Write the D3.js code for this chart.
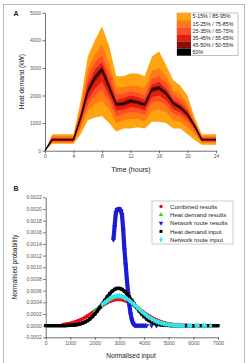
<!DOCTYPE html>
<html>
<head>
<meta charset="utf-8">
<script src="https://cdn.jsdelivr.net/npm/d3@7"></script>
<style>
  body { margin: 0; background: #fff; }
  svg { display: block; font-family: "Liberation Sans", Arial, sans-serif; }
  .axis text { fill: #555; font-size: 5px; }
  .axis path, .axis line { stroke: #333; stroke-width: 0.7; }
  .title { fill: #222; font-size: 6.6px; }
</style>
</head>
<body>
<svg id="chart" width="249" height="363"></svg>
<script>
// ---- panel A data : heat demand quantiles per hour ----
const hours = [0, 1, 2, 3, 4, 5, 6, 7, 8, 9, 10, 11, 12, 13, 14, 15, 16, 17, 18, 19, 20, 21, 22, 23, 24];
const q95 = [0, 600, 600, 600, 600, 1800, 3400, 4000, 4500, 3800, 2700, 2700, 2800, 2800, 2700, 3400, 3600, 3100, 2550, 2350, 2000, 1200, 600, 600, 600];
const q85 = [0, 520, 520, 520, 520, 1500, 2950, 3500, 3850, 3150, 2300, 2300, 2350, 2350, 2250, 2900, 3000, 2700, 2200, 2050, 1700, 1050, 520, 520, 520];
const q75 = [0, 480, 480, 480, 480, 1400, 2650, 3200, 3450, 2800, 2050, 2050, 2150, 2100, 2000, 2600, 2700, 2450, 2000, 1850, 1550, 1000, 480, 480, 480];
const q65 = [0, 450, 450, 450, 450, 1300, 2400, 2950, 3200, 2550, 1850, 1900, 2000, 1950, 1850, 2400, 2500, 2250, 1850, 1700, 1450, 950, 450, 450, 450];
const q55 = [0, 420, 420, 420, 420, 1250, 2250, 2750, 3050, 2400, 1750, 1780, 1880, 1830, 1730, 2300, 2350, 2150, 1780, 1620, 1370, 920, 420, 420, 420];
const q50 = [0, 400, 400, 400, 400, 1200, 2150, 2650, 2950, 2300, 1680, 1700, 1800, 1750, 1660, 2220, 2280, 2080, 1720, 1560, 1320, 900, 400, 400, 400];
const q45 = [0, 380, 380, 380, 380, 1150, 2050, 2500, 2800, 2200, 1600, 1620, 1720, 1680, 1590, 2130, 2180, 2000, 1650, 1500, 1270, 870, 380, 380, 380];
const q35 = [0, 350, 350, 350, 350, 1050, 1850, 2250, 2500, 2000, 1450, 1480, 1580, 1550, 1460, 1950, 2000, 1830, 1500, 1380, 1170, 800, 350, 350, 350];
const q25 = [0, 320, 320, 320, 320, 950, 1650, 2000, 2200, 1800, 1250, 1320, 1400, 1380, 1300, 1750, 1800, 1650, 1350, 1250, 1050, 720, 320, 320, 320];
const q15 = [0, 290, 290, 290, 290, 800, 1450, 1700, 1800, 1500, 1000, 1100, 1150, 1150, 1050, 1450, 1500, 1400, 1100, 1050, 850, 600, 290, 290, 290];
const q05 = [0, 250, 250, 250, 250, 600, 1100, 1200, 1250, 1000, 700, 800, 800, 850, 800, 1050, 1050, 1000, 800, 800, 600, 400, 220, 220, 220];
const bandLabels = ['5-15% / 85-95%', '15-25% / 75-85%', '25-35% / 65-75%', '35-45% / 55-65%', '45-50% / 50-55%', '50%'];
const bandColors = ['#ffa310', '#ff7a14', '#ff4e26', '#e11f0e', '#8a0a06', '#000000'];
const hourTicks = [0, 4, 8, 12, 16, 20, 24];
const demandTicks = [0, 1000, 2000, 3000, 4000, 5000];

// ---- panel B data : normalised probability curves (x grid every 100) ----
const inputX = d3.range(0, 7001, 100);
const heatInput = [0, 0, 0, 0, 0, 0, 0, 0, 0, 0.000003,
  0.000005, 0.000008, 0.000012, 0.000019, 0.000029, 0.000043, 0.000061, 0.000086, 0.000116, 0.000155,
  0.0002, 0.000252, 0.00031, 0.000371, 0.000433, 0.000493, 0.000547, 0.00059, 0.000622, 0.000638,
  0.000638, 0.000622, 0.00059, 0.000547, 0.000493, 0.000433, 0.000371, 0.00031, 0.000252, 0.0002,
  0.000155, 0.000116, 0.000086, 0.000061, 0.000043, 0.000029, 0.000019, 0.000012, 0.000008, 0.000005,
  0.000003, 0, 0, 0, 0, 0, 0, 0, 0, 0,
  0, 0, 0, 0, 0, 0, 0, 0, 0, 0,
  0];
const combined = [null, null, null, null, null, null, null, 0.000018, 0.000024, 0.000031,
  0.00004, 0.000051, 0.000064, 0.00008, 0.000098, 0.000118, 0.000141, 0.000167, 0.000194, 0.000223,
  0.000254, 0.000284, 0.000315, 0.000344, 0.000371, 0.000396, 0.000416, 0.000432, 0.000444, 0.000449,
  0.000449, 0.000444, 0.000432, 0.000416, 0.000396, 0.000371, 0.000344, 0.000315, 0.000284, 0.000254,
  0.000223, 0.000194, 0.000167, 0.000141, 0.000118, 0.000098, 0.00008, 0.000064, 0.000051, 0.00004,
  0.000031, 0.000024, 0.000018, 0.000014, 0.00001, 0.000007, 0.000005, 0.000003, 0.000002, 0.000001,
  0, null, null, null, null, null, null, null, null, null,
  null];
const heatResults = [null, null, null, null, null, null, null, null, null, null,
  null, null, null, null, null, null, null, null, null, null,
  0.000243, 0.00028, 0.000319, 0.000356, 0.000392, 0.000425, 0.000453, 0.000476, 0.000491, 0.000499,
  0.000499, 0.000491, 0.000476, 0.000453, 0.000425, 0.000392, 0.000356, 0.000319, 0.00028, 0.000243,
  0.000207, 0.000173, 0.000143, 0.000116, 0.000093, 0.000073, 0.000057, 0.000043, 0.000032, 0.000024,
  0.000017, null, null, null, null, null, null, null, null, null,
  null, null, null, null, null, null, null, null, null, null,
  null];
const routeInput = [null, null, null, null, null, null, null, null, null, null,
  null, null, null, null, null, null, null, null, null, null,
  null, null, null, 0.000361, 0.000398, 0.000432, 0.000461, 0.000485, 0.000501, 0.000509,
  0.000509, 0.000501, 0.000485, 0.000461, 0.000432, 0.000398, 0.000361, 0.000322, 0.000282, 0.000244,
  0.000207, 0.000173, 0.000142, 0.000115, 0.000091, 0.000072, 0.000055, 0.000042, 0.000031, 0.000023,
  0.000016, 0.000012, 0.000008, 0.000006, 0.000004, 0, 0, null, 0, 0,
  null, 0, 0, null, 0, 0, null, 0, null, null,
  null];
// network route results has its own, finer x grid
const routeResX = [2750, 2800, 2850, 2900, 2950, 3000, 3050, 3100, 3150, 3200, 3250, 3300, 3350, 3400, 3450, 3500, 3550, 3600, 3650, 3700, 3800, 3900, 4000, 4100, 4200, 4300, 4400, 4500];
const routeResY = [0.00147, 0.0017, 0.00193, 0.00199, 0.002, 0.002, 0.00197, 0.0019, 0.00164, 0.0013, 0.00104, 0.00078, 0.00055, 0.00035, 0.0002, 0.0001, 0.00004, 0.00001, 0.000002, 0, 0, 0, 0, 0, null, 0, null, 0];
const inputTicks = [0, 1000, 2000, 3000, 4000, 5000, 6000, 7000];
const probTicks = [-0.0002, 0, 0.0002, 0.0004, 0.0006, 0.0008, 0.001, 0.0012, 0.0014, 0.0016, 0.0018, 0.002, 0.0022];
const seriesNames = ['Combined results', 'Heat demand results', 'Network route results', 'Heat demand input', 'Network route input'];
const seriesColors = ['#e8101a', '#22dd22', '#1a1ad8', '#000000', '#33e6ee'];

const svg = d3.select('#chart');

// outer frame
svg.append('rect')
  .attr('x', 3.5).attr('y', 4.5)
  .attr('width', 241).attr('height', 370)
  .attr('fill', 'none').attr('stroke', '#aaa').attr('stroke-width', 0.8);

// ================= panel A =================
const xA = d3.scaleLinear().domain([0, 24]).range([45, 216]);
const yA = d3.scaleLinear().domain([0, 5000]).range([150.7, 12.7]);

const gA = svg.append('g');
const bandPairs = [[q05, q95], [q15, q85], [q25, q75], [q35, q65], [q45, q55]];
const area = d3.area()
  .x((d, i) => xA(hours[i]))
  .y0(d => yA(d[0]))
  .y1(d => yA(d[1]));
bandPairs.forEach((p, k) => {
  gA.append('path')
    .attr('d', area(d3.zip(p[0], p[1])))
    .attr('fill', bandColors[k]);
});
gA.append('path')
  .attr('d', d3.line().x((d, i) => xA(hours[i])).y(d => yA(d))(q50))
  .attr('fill', 'none')
  .attr('stroke', '#000')
  .attr('stroke-width', 1.4)
  .attr('stroke-linejoin', 'round');

gA.append('g')
  .attr('class', 'axis')
  .attr('transform', 'translate(0,150.7)')
  .call(d3.axisBottom(xA).tickValues(hourTicks).tickSize(2.5).tickSizeOuter(0).tickPadding(1.5));
gA.append('g')
  .attr('class', 'axis')
  .attr('transform', 'translate(45,0)')
  .call(d3.axisLeft(yA).tickValues(demandTicks).tickFormat(d3.format('d')).tickSize(2.5).tickSizeOuter(0).tickPadding(1.5));

gA.append('text').attr('class', 'title')
  .attr('x', 131).attr('y', 171.5).attr('text-anchor', 'middle')
  .style('font-size', '7px')
  .text('Time (hours)');
gA.append('text').attr('class', 'title')
  .attr('transform', 'translate(23.5,81.7) rotate(-90)')
  .attr('text-anchor', 'middle')
  .text('Heat demand (kW)');
svg.append('text')
  .attr('x', 13.5).attr('y', 16)
  .style('font-size', '7px').style('font-weight', 'bold').attr('fill', '#222')
  .text('A');

// legend A
const legA = gA.append('g').attr('transform', 'translate(177,13)');
legA.append('rect')
  .attr('width', 61).attr('height', 42.6)
  .attr('fill', '#fff').attr('stroke', '#999').attr('stroke-width', 0.6);
bandLabels.forEach((t, i) => {
  legA.append('rect')
    .attr('x', 0).attr('y', i * 7.1)
    .attr('width', 14).attr('height', 7.1)
    .attr('fill', bandColors[i]);
  legA.append('text')
    .attr('x', 15.5).attr('y', i * 7.1 + 5.4)
    .style('font-size', '5.3px').attr('fill', '#222')
    .text(t);
});

// ================= panel B =================
const xB = d3.scaleLinear().domain([0, 7000]).range([45.7, 218]);
const yB = d3.scaleLinear().domain([-0.0002, 0.0022]).range([337.3, 197.3]);
const gB = svg.append('g');

const symbols = [d3.symbolCircle, d3.symbolTriangle, d3.symbolTriangle, d3.symbolSquare, d3.symbolDiamond];
const series = [
  { x: inputX, y: combined },
  { x: inputX, y: heatResults },
  { x: routeResX, y: routeResY },
  { x: inputX, y: heatInput },
  { x: inputX, y: routeInput }
];
series.forEach((s, k) => {
  const pts = s.x.map((x, i) => [x, s.y[i]]);
  gB.append('path')
    .attr('d', d3.line().defined(d => d[1] !== null).x(d => xB(d[0])).y(d => yB(d[1]))(pts))
    .attr('fill', 'none')
    .attr('stroke', seriesColors[k])
    .attr('stroke-width', k === 2 ? 4.2 : 3.3)
    .attr('stroke-linejoin', 'round');
  gB.append('g').selectAll('path')
    .data(pts.filter(d => d[1] !== null))
    .enter()
    .append('path')
    .attr('transform', d => `translate(${xB(d[0])},${yB(d[1])})${k === 2 ? ' rotate(180)' : ''}`)
    .attr('d', d3.symbol().type(symbols[k]).size(11))
    .attr('fill', seriesColors[k]);
});

gB.append('g')
  .attr('class', 'axis')
  .attr('transform', 'translate(0,337.3)')
  .call(d3.axisBottom(xB).tickValues(inputTicks).tickFormat(d3.format('d')).tickSize(2.5).tickSizeOuter(0).tickPadding(1.5));
gB.append('g')
  .attr('class', 'axis')
  .attr('transform', 'translate(45.7,0)')
  .call(d3.axisLeft(yB).tickValues(probTicks)
    .tickFormat(d => d3.format('.4f')(d).replace('\u2212', '-'))
    .tickSize(2.5).tickSizeOuter(0).tickPadding(1.5));

gB.append('text').attr('class', 'title')
  .attr('x', 131).attr('y', 357.5).attr('text-anchor', 'middle')
  .text('Normalised input');
gB.append('text').attr('class', 'title')
  .attr('transform', 'translate(16.5,267) rotate(-90)')
  .attr('text-anchor', 'middle')
  .text('Normalised probability');
svg.append('text')
  .attr('x', 13.5).attr('y', 191)
  .style('font-size', '7px').style('font-weight', 'bold').attr('fill', '#222')
  .text('B');

// legend B
const legB = gB.append('g').attr('transform', 'translate(152,201)');
legB.append('rect')
  .attr('width', 81).attr('height', 43)
  .attr('fill', '#fff').attr('stroke', '#aaa').attr('stroke-width', 0.6);
seriesNames.forEach((t, i) => {
  legB.append('path')
    .attr('transform', `translate(9,${5.5 + i * 8.3})${i === 2 ? ' rotate(180)' : ''}`)
    .attr('d', d3.symbol().type(symbols[i]).size(9))
    .attr('fill', seriesColors[i]);
  legB.append('text')
    .attr('x', 18).attr('y', 7.6 + i * 8.3)
    .style('font-size', '6.1px').attr('fill', '#222')
    .text(t);
});
</script>
</body>
</html>
